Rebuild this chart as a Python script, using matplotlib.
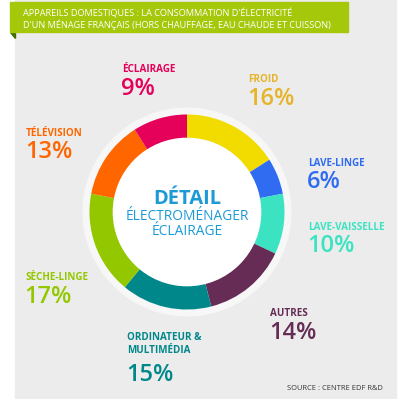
import matplotlib.pyplot as plt
from matplotlib.patches import Rectangle, Circle, Polygon

# data, clockwise from 12 o'clock
categories = ["FROID", "LAVE-LINGE", "LAVE-VAISSELLE", "AUTRES",
              "ORDINATEUR &\nMULTIMÉDIA", "SÈCHE-LINGE", "TÉLÉVISION", "ÉCLAIRAGE"]
values = [16, 6, 10, 14, 15, 17, 13, 9]
colors = ["#f2dc00", "#2f6cf2", "#3ce3c2", "#662c55",
          "#00878a", "#93c800", "#ff6600", "#e5005a"]
label_colors = ["#e6b42a", "#2f6cf2", "#3ce3c2", "#662c55",
                "#00878a", "#93c800", "#ff6600", "#e5005a"]
# label anchor (left x, y of name) in pixels from top-left
label_pos = [(248, 80), (308, 163), (308, 227), (270, 314),
             (127, 344), (25, 278), (26, 133), (122, 70)]

W, H = 400, 399
fig = plt.figure(figsize=(W / 100, H / 100), dpi=100)
plt.rcParams['font.family'] = ['Open Sans', 'DejaVu Sans']

bg = fig.add_axes([0, 0, 1, 1])
bg.set_xlim(0, W)
bg.set_ylim(H, 0)
bg.axis('off')
bg.add_patch(Rectangle((15, 0), 381, H, color="#ececec", zorder=0))
# header banner
bg.add_patch(Polygon([(10, 32), (15, 32), (15, 38)], color="#3f6e00", zorder=1))
bg.add_patch(Rectangle((10, 2), 338, 30, color="#a6c80a", zorder=2))
bg.text(23, 13, "APPAREILS DOMESTIQUES : LA CONSOMMATION D'ÉLECTRICITÉ",
        color="white", fontsize=6.6, va="center", ha="left", zorder=3)
bg.text(23, 24.5, "D'UN MÉNAGE FRANÇAIS (HORS CHAUFFAGE, EAU CHAUDE ET CUISSON)",
        color="white", fontsize=6.6, va="center", ha="left", zorder=3)

for name, val, col, (x, y) in zip(categories, values, label_colors, label_pos):
    bg.text(x, y, name, color=col, fontsize=7.1, fontweight="bold",
            ha="left", va="center", linespacing=1.15)
    nlines = name.count("\n")
    bg.text(x - 1, y + 19 + nlines * 12, f"{val}%", color=col, fontsize=17,
            fontweight="semibold", ha="left", va="center")

bg.text(383, 389, "SOURCE : CENTRE EDF R&D", color="#333333", fontsize=5.4,
        ha="right", va="center")

# donut
cx, cy, R = 187, 212, 106
L = 1.15
side = 2 * L * R
ax = fig.add_axes([(cx - side / 2) / W, (H - cy - side / 2) / H, side / W, side / H])
ax.set_xlim(-L, L)
ax.set_ylim(-L, L)
ax.set_aspect('equal')
ax.axis('off')
ax.add_patch(Circle((0, 0), 1.065, color="#f7f7f7", zorder=0))
ax.pie(values, colors=colors, startangle=90, counterclock=False, radius=1,
       wedgeprops=dict(width=0.245, linewidth=0))
ax.add_patch(Circle((0, 0), 0.755, color="white", zorder=5))

# centre text, pixel offsets converted to donut units
ax.text(0, (cy - 198) / R, "DÉTAIL", color="#1b9ad6", fontsize=14.5, fontweight="bold",
        ha="center", va="center", zorder=6)
ax.text(0, (cy - 217) / R, "ÉLECTROMÉNAGER", color="#1b9ad6", fontsize=9.9,
        ha="center", va="center", zorder=6)
ax.text(0, (cy - 233) / R, "ÉCLAIRAGE", color="#1b9ad6", fontsize=9.9,
        ha="center", va="center", zorder=6)

fig.savefig("out.png", dpi=100)
